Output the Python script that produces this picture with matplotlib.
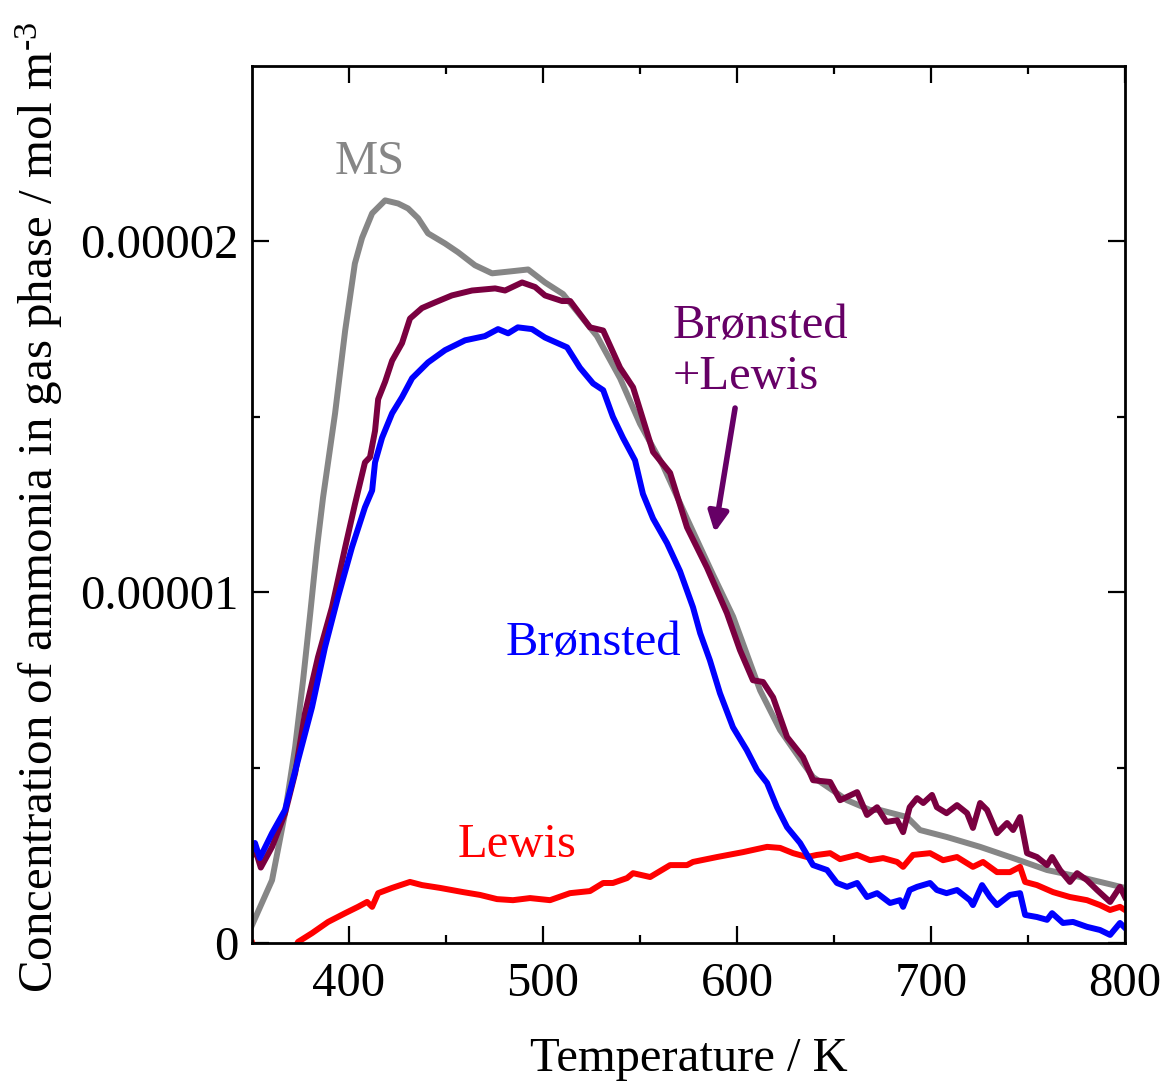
import numpy as np
import matplotlib
matplotlib.use("Agg")
import matplotlib.pyplot as plt
from matplotlib.ticker import FixedLocator, FuncFormatter

plt.rcParams['font.family'] = ['Liberation Serif', 'DejaVu Serif']
plt.rcParams['mathtext.fontset'] = 'custom'
plt.rcParams['mathtext.rm'] = 'Liberation Serif'
plt.rcParams['mathtext.it'] = 'Liberation Serif:italic'

# concentrations, in units of 1e-6 mol m^-3
ms_T = [350, 360.3, 367, 372.2, 376.3, 380, 383.5, 386.6, 392.8, 398, 403, 406.7,
        411.9, 418.6, 425.3, 430.4, 435.6, 440.7, 449.5, 456.2, 464.9, 473.7,
        484, 492.3, 501, 510.3, 527.8, 539.7, 550, 561.9, 574.2, 587.6, 598,
        611.9, 622.2, 634, 639.2, 651.5, 656.7, 668.6, 673.7, 687.6, 694.3,
        708.2, 725.3, 742.3, 759.8, 776.8, 800]
ms_c = [0.51, 1.79, 3.70, 5.58, 7.49, 9.40, 11.28, 12.7, 15.1, 17.46, 19.37, 20.1,
        20.8, 21.17, 21.08, 20.94, 20.66, 20.23, 19.94, 19.69, 19.32, 19.09,
        19.15, 19.20, 18.83, 18.5, 17.3, 16.1, 14.8, 13.6, 12.1, 10.5, 9.3,
        7.2, 6.07, 5.13, 4.73, 4.27, 4.07, 3.79, 3.79, 3.59, 3.22,
        3.02, 2.74, 2.42, 2.08, 1.88, 1.57]

bl_T = [350, 352, 354.5, 360.3, 367, 372.2, 377.3, 384, 391.2, 398, 403, 408.2,
        410.8, 413.4, 415, 418.6, 422.2, 427.3, 431.4, 437.6, 444.3, 453, 463.4,
        475.3, 480.4, 489.2, 495.9, 501, 509.8, 514, 524.2, 531, 539.7, 546.4,
        550, 556.7, 565.5, 574.2, 584.5, 594.8, 601.5, 608.2, 613.4, 618.6,
        625.8, 634, 639.2, 648, 653.1, 661.9, 667, 672.2, 677, 682.5, 685.6,
        689, 692.8, 696, 700.5, 703, 708, 713.4, 718.6, 721.6, 725.3, 728.9,
        734, 739.2, 742.3, 745.9, 749.5, 754.6, 759.8, 762.4, 766.5, 771.6,
        775.3, 780.4, 785.6, 792.3, 797.4, 800]
bl_c = [2.5, 2.6, 2.15, 2.74, 3.70, 4.84, 6.55, 8.15, 9.57, 11.28, 12.5, 13.7,
        13.85, 14.6, 15.5, 16.0, 16.6, 17.1, 17.8, 18.1, 18.26, 18.46, 18.6,
        18.66, 18.6, 18.83, 18.7, 18.46, 18.3, 18.3, 17.55, 17.46, 16.4, 15.84,
        15.2, 14.0, 13.4, 11.85, 10.7, 9.4, 8.35, 7.49, 7.44, 7.0,
        5.87, 5.3, 4.64, 4.59, 4.07, 4.3, 3.65, 3.87, 3.45, 3.5, 3.16,
        3.87, 4.13, 3.99, 4.22, 3.87, 3.70, 3.93, 3.70, 3.28, 3.99, 3.79,
        3.13, 3.42, 3.22, 3.59, 2.56, 2.45, 2.22, 2.45, 2.08, 1.74,
        1.99, 1.79, 1.51, 1.17, 1.6, 1.31]

b_T = [350, 351.5, 354, 360.3, 367, 373.7, 380.9, 387.6, 394.3, 401.5, 408.2,
       411.9, 413.4, 417, 422.2, 427.3, 432.5, 440.7, 449.5, 459.8, 470, 476.8,
       482, 487, 494.3, 501, 512.4, 519, 525.8, 531, 536, 541.2, 547.4, 551.5,
       556.7, 563.9, 570.6, 577.3, 581, 586, 591.2, 597.9, 605, 610.3, 615.5,
       620.6, 625.8, 632.5, 639.2, 646.4, 651.5, 656.7, 661.9, 667, 672.2,
       678.9, 684, 685.6, 689, 692.8, 699.5, 703, 708, 713.4, 720, 721.6,
       726.3, 730.4, 734, 740.7, 745.9, 748.5, 754.6, 759.8, 762.4, 768,
       773.2, 780.4, 787.1, 792.3, 797.4, 800]
b_c = [2.65, 2.85, 2.42, 3.13, 3.79, 5.21, 6.72, 8.43, 9.86, 11.28, 12.42,
       12.9, 13.7, 14.4, 15.1, 15.56, 16.1, 16.55, 16.9, 17.18, 17.3, 17.5,
       17.38, 17.55, 17.5, 17.26, 16.98, 16.4, 15.95, 15.76, 15.0, 14.4, 13.76, 12.8,
       12.1, 11.4, 10.6, 9.57, 8.83, 8.06, 7.12, 6.15, 5.5, 4.93, 4.56,
       3.87, 3.30, 2.85, 2.22, 2.08, 1.71, 1.6, 1.71, 1.31, 1.42,
       1.14, 1.22, 1.03, 1.51, 1.6, 1.71, 1.51, 1.42, 1.51, 1.22, 1.08,
       1.65, 1.31, 1.08, 1.37, 1.42, 0.8, 0.74, 0.66, 0.85, 0.57,
       0.6, 0.46, 0.37, 0.23, 0.57, 0.43]

l_T = [350, 352, 370, 373.7, 380.9, 389.2, 398, 404.6, 409.3, 411.9, 415, 422.2,
       431.4, 437.6, 446.9, 458.8, 467.5, 476.3, 484.5, 493.3, 503.6, 513.9,
       524.2, 531, 536, 543.3, 546.4, 555.2, 565.5, 574.2, 577.3, 589.7, 603.1,
       615.5, 622.2, 628.9, 636.1, 641.2, 648, 653.1, 661.9, 668.6, 675.3,
       682.5, 685.6, 690.7, 699.5, 706.2, 713.4, 721.6, 726.8, 734, 740.7,
       745.9, 748.5, 754.6, 762.9, 771.6, 780.4, 787.1, 792.3, 797.4, 800]
l_c = [0.0, -0.5, -0.4, 0.03, 0.28, 0.6, 0.85, 1.03, 1.17, 1.03, 1.42, 1.57,
       1.74, 1.65, 1.57, 1.45, 1.37, 1.25, 1.22, 1.28, 1.22, 1.42,
       1.48, 1.71, 1.71, 1.85, 1.99, 1.88, 2.22, 2.22, 2.31, 2.45, 2.59,
       2.74, 2.71, 2.56, 2.45, 2.51, 2.56, 2.39, 2.51, 2.36, 2.42,
       2.31, 2.17, 2.51, 2.56, 2.36, 2.45, 2.17, 2.31, 2.02, 2.02,
       2.17, 1.74, 1.65, 1.45, 1.31, 1.22, 1.08, 0.94, 1.03, 0.94]

scale = 1e-6
fig = plt.figure(figsize=(11.68, 10.84), dpi=100)
ax = fig.add_axes([0.2158, 0.1301, 0.7474, 0.809])

lw = 4.3
ax.plot(ms_T, np.array(ms_c) * scale, color='#868686', lw=lw)
ax.plot(bl_T, np.array(bl_c) * scale, color='#7a0040', lw=lw)
ax.plot(l_T, np.array(l_c) * scale, color='#ff0000', lw=lw)
ax.plot(b_T, np.array(b_c) * scale, color='#0000ff', lw=lw)

ax.set_xlim(350, 800)
ax.set_ylim(0, 2.5e-5)
ax.xaxis.set_major_locator(FixedLocator([400, 500, 600, 700, 800]))
ax.xaxis.set_minor_locator(FixedLocator([450, 550, 650, 750]))
ax.yaxis.set_major_locator(FixedLocator([0, 1e-5, 2e-5]))
ax.yaxis.set_minor_locator(FixedLocator([0.5e-5, 1.5e-5]))
ax.yaxis.set_major_formatter(FuncFormatter(lambda v, p: '0' if v == 0 else f'{v:.5f}'))

ax.tick_params(which='both', direction='in', top=True, right=True, width=1.6,
               labelsize=35)
ax.tick_params(which='major', length=12.5)
ax.tick_params(which='minor', length=6)
ax.tick_params(axis='x', pad=14)
ax.tick_params(axis='y', pad=10)
for s in ax.spines.values():
    s.set_linewidth(2)

ax.set_xlabel('Temperature / K', fontsize=35, labelpad=22)
ax.set_ylabel(r'Concentration of ammonia in gas phase / mol m$^{\text{-3}}$',
              fontsize=35.3)
ax.yaxis.set_label_coords(-0.214, 0.497)

ax.text(410.8, 22.25e-6, 'MS', color='#868686', fontsize=35, ha='center', va='center')
ax.text(525.8, 8.55e-6, 'Brønsted', color='#0000ff', fontsize=35, ha='center', va='center')
ax.text(486.6, 2.79e-6, 'Lewis', color='#ff0000', fontsize=35, ha='center', va='center')
ax.text(567, 16.85e-6, 'Brønsted\n+Lewis', color='#660066', fontsize=35,
        ha='left', va='center', linespacing=1.2)
ax.annotate('', xy=(588.5, 11.7e-6), xytext=(599, 15.25e-6),
            arrowprops=dict(arrowstyle='-|>,head_width=0.6,head_length=1.2',
                            color='#660066', lw=4.0, shrinkA=0, shrinkB=0))

fig.savefig('out.png', dpi=100)
